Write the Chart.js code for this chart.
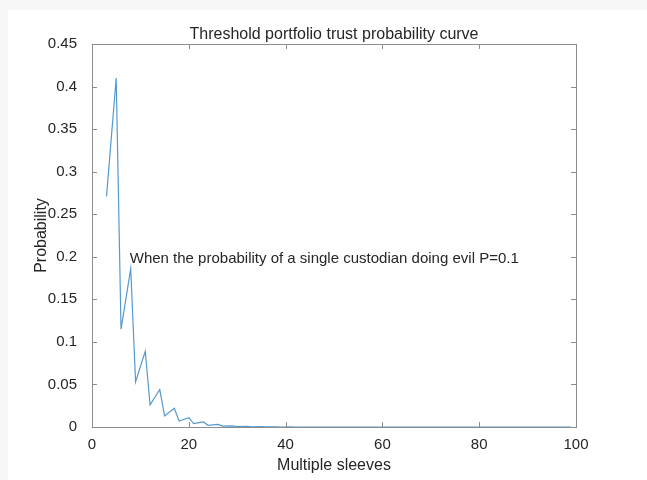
<!DOCTYPE html>
<html>
<head>
<meta charset="utf-8">
<script src="https://cdn.jsdelivr.net/npm/chart.js@4/dist/chart.umd.min.js"></script>
<style>
  html, body { margin: 0; padding: 0; background: #f7f7f7; }
  #wrap { position: absolute; left: 8px; top: 10px; width: 639px; height: 470px; background: #fff; }
  #c { position: absolute; left: -8px; top: -10px; }
</style>
</head>
<body>
<div id="wrap"><canvas id="c" width="647" height="480"></canvas></div>
<script>
// Values
const sleeves = [3, 5, 6, 8, 9, 11, 12, 14, 15, 17, 18, 20, 21, 23, 24, 26, 27, 29, 30, 32,
  33, 35, 36, 38, 39, 41, 42, 44, 45, 47, 48, 50, 51, 53, 54, 56, 57, 59, 60, 62,
  63, 65, 66, 68, 69, 71, 72, 74, 75, 77, 78, 80, 81, 83, 84, 86, 87, 89, 90, 92,
  93, 95, 96, 98, 99];
const probability = [0.271, 0.410, 0.115, 0.186, 0.053, 0.089, 0.026, 0.044, 0.013, 0.022,
  0.007, 0.011, 0.004, 0.006, 0.002, 0.003, 0.001, 0.0014, 0.0005, 0.0007,
  0.0002, 0.0004, 0.0001, 0.0002, 0, 0.0001, 0, 0, 0, 0, 0, 0, 0, 0, 0, 0, 0, 0, 0, 0,
  0, 0, 0, 0, 0, 0, 0, 0, 0, 0, 0, 0, 0, 0, 0, 0, 0, 0, 0, 0, 0, 0, 0, 0, 0];
const xTicks = [0, 20, 40, 60, 80, 100];
const yTicks = [0, 0.05, 0.1, 0.15, 0.2, 0.25, 0.3, 0.35, 0.4, 0.45];
const titleText = 'Threshold portfolio trust probability curve';
const noteText = 'When the probability of a single custodian doing evil P=0.1';
const notePos = [7.8, 0.195];

const FONT = '"Liberation Sans", Arial, sans-serif';
const TEXT = '#262626';
const AXIS = '#8c8c8c';

// MATLAB-style box with inward ticks, title and text annotation
const boxPlugin = {
  id: 'box',
  afterDraw(chart) {
    const { ctx, chartArea: a, scales: { x, y } } = chart;
    ctx.save();
    ctx.strokeStyle = AXIS;
    ctx.lineWidth = 1;
    ctx.strokeRect(Math.round(a.left) + 0.5, Math.round(a.top) + 0.5,
      Math.round(a.right - a.left), Math.round(a.bottom - a.top));
    ctx.beginPath();
    xTicks.forEach(v => {
      const px = Math.round(x.getPixelForValue(v)) + 0.5;
      ctx.moveTo(px, a.bottom); ctx.lineTo(px, a.bottom - 5);
      ctx.moveTo(px, a.top); ctx.lineTo(px, a.top + 5);
    });
    yTicks.forEach(v => {
      const py = Math.round(y.getPixelForValue(v)) + 0.5;
      ctx.moveTo(a.left, py); ctx.lineTo(a.left + 5, py);
      ctx.moveTo(a.right, py); ctx.lineTo(a.right - 5, py);
    });
    ctx.stroke();

    ctx.fillStyle = TEXT;
    ctx.font = '16px ' + FONT;
    ctx.textAlign = 'center';
    ctx.textBaseline = 'alphabetic';
    ctx.fillText(titleText, (a.left + a.right) / 2, 39);

    ctx.font = '15px ' + FONT;
    ctx.textAlign = 'left';
    ctx.textBaseline = 'middle';
    ctx.fillText(noteText, x.getPixelForValue(notePos[0]), y.getPixelForValue(notePos[1]) - 2);
    ctx.restore();
  }
};

new Chart(document.getElementById('c'), {
  type: 'line',
  data: {
    datasets: [{
      data: sleeves.map((s, i) => ({ x: s, y: probability[i] })),
      borderColor: '#5599cf',
      borderWidth: 1.2,
      pointRadius: 0,
      tension: 0,
      fill: false
    }]
  },
  options: {
    responsive: false,
    animation: false,
    layout: { padding: { top: 44, right: 71, left: 0, bottom: 0 } },
    plugins: { legend: { display: false }, tooltip: { enabled: false } },
    scales: {
      x: {
        type: 'linear', min: 0, max: 100,
        afterFit: s => { s.height = 53; },
        afterBuildTicks: s => { s.ticks = xTicks.map(v => ({ value: v })); },
        grid: { display: false },
        border: { display: false },
        ticks: { color: TEXT, font: { family: FONT, size: 15 }, padding: 1, maxRotation: 0, callback: v => String(v) },
        title: { display: true, text: 'Multiple sleeves', color: TEXT, font: { family: FONT, size: 16 }, padding: { top: 0, bottom: 5 } }
      },
      y: {
        type: 'linear', min: 0, max: 0.45,
        afterFit: s => { s.width = 92; },
        afterBuildTicks: s => { s.ticks = yTicks.map(v => ({ value: v })); },
        grid: { display: false },
        border: { display: false },
        ticks: { color: TEXT, font: { family: FONT, size: 15 }, padding: 7, callback: v => String(v) },
        title: { display: true, text: 'Probability', color: TEXT, font: { family: FONT, size: 16 }, padding: { top: 32, bottom: 0 } }
      }
    }
  },
  plugins: [boxPlugin]
});
</script>
</body>
</html>
